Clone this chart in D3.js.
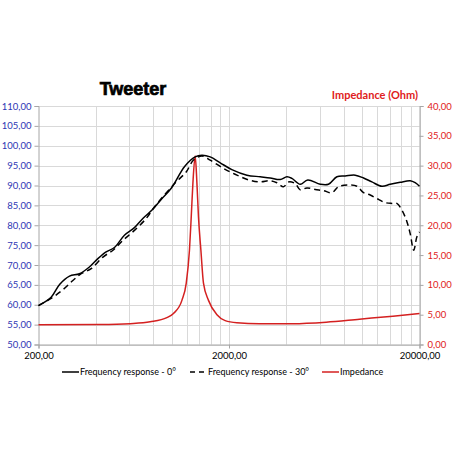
<!DOCTYPE html>
<html>
<head>
<meta charset="utf-8">
<script src="https://cdn.jsdelivr.net/npm/d3@7"></script>
<style>
  body { margin: 0; background: #fff; }
  text { font-family: Lato, "Liberation Sans", sans-serif; }
</style>
</head>
<body>
<div id="chart"></div>
<script>
// Frequency response 0° (Hz, dB)
const freq0 = [200, 233, 258, 291, 328, 370, 410, 453, 501, 565, 638, 706, 796, 881, 995, 1170, 1329, 1441, 1593, 1799, 2070, 2483, 2916, 3290, 3714, 4027, 4277, 4730, 5180, 6025, 6655, 7370, 8150, 9190, 10170, 11250, 12700, 14030, 15840, 17870, 18980, 20000];
const spl0 = [59.8, 61.9, 65.1, 67.2, 67.8, 69.5, 71.6, 73.3, 74.4, 77.5, 79.4, 81.7, 84.0, 86.5, 89.3, 94.8, 97.2, 97.6, 97.2, 95.7, 94.0, 92.6, 92.2, 91.9, 91.5, 92.2, 91.8, 90.3, 91.4, 90.3, 90.3, 92.2, 92.4, 92.6, 91.9, 90.9, 89.8, 90.3, 90.8, 91.2, 90.7, 89.8];

// Frequency response 30° (Hz, dB)
const freq30 = [200, 233, 269, 303, 335, 378, 436, 492, 555, 638, 735, 812, 916, 1056, 1192, 1302, 1441, 1593, 1871, 2201, 2584, 2917, 3290, 3567, 3864, 4105, 4450, 4730, 5130, 5670, 6265, 6935, 7515, 8480, 9390, 10170, 11020, 12180, 13210, 14330, 15210, 16170, 17180, 17870, 18650, 19380, 20000];
const spl30 = [59.8, 61.6, 63.8, 66.1, 67.8, 69.1, 72.0, 73.7, 76.2, 78.7, 81.7, 84.6, 87.6, 90.9, 93.4, 96.4, 97.4, 96.4, 94.3, 92.6, 91.3, 90.9, 91.2, 90.7, 89.7, 90.9, 90.5, 88.9, 89.4, 89.0, 88.7, 88.2, 89.7, 90.1, 89.8, 88.2, 87.6, 86.5, 85.7, 85.5, 85.5, 83.8, 80.9, 77.9, 73.7, 77.1, 78.3];

// Impedance (Hz, Ohm)
const freqZ = [200, 422, 606, 771, 944, 1022, 1132, 1193, 1240, 1267, 1293, 1329, 1357, 1383, 1424, 1469, 1561, 1729, 1910, 2200, 2890, 4330, 6475, 9680, 14500, 20000];
const imp = [3.3, 3.35, 3.5, 3.8, 4.5, 5.2, 7.4, 10.3, 15.8, 21.4, 27.1, 31.6, 27.1, 21.4, 15.8, 10.3, 7.4, 5.0, 4.0, 3.65, 3.5, 3.5, 3.75, 4.25, 4.75, 5.2];

const leftTicks = d3.range(50, 110.1, 5);
const rightTicks = d3.range(0, 40.1, 5);
const xTicks = [200, 2000, 20000];
const xGrid = d3.range(400, 2001, 200).concat(d3.range(4000, 20001, 2000));

const seriesNames = ['Frequency response - 0°', 'Frequency response - 30°', 'Impedance'];

const width = 452;
const height = 452;
const fmt = (d) => d.toFixed(2).replace('.', ',');

const svg = d3.select('#chart')
  .append('svg')
  .attr('width', width)
  .attr('height', height);

const plot = { left: 38.5, right: 419.5, top: 106, bottom: 344.5 };

const x = d3.scaleLog().domain([200, 20000]).range([plot.left, plot.right]);
const yL = d3.scaleLinear().domain([50, 110]).range([plot.bottom, plot.top]);
const yR = d3.scaleLinear().domain([0, 40]).range([plot.bottom, plot.top]);

// gridlines
svg.append('g')
  .selectAll('line.h')
  .data(leftTicks)
  .join('line')
  .attr('x1', plot.left).attr('x2', plot.right)
  .attr('y1', (d) => Math.round(yL(d)) + 0.5)
  .attr('y2', (d) => Math.round(yL(d)) + 0.5)
  .attr('stroke', '#d9d9d9');

svg.append('g')
  .selectAll('line.v')
  .data(xGrid)
  .join('line')
  .attr('x1', (d) => Math.round(x(d)) + 0.5)
  .attr('x2', (d) => Math.round(x(d)) + 0.5)
  .attr('y1', plot.top).attr('y2', plot.bottom)
  .attr('stroke', '#d9d9d9');

// axes
const axisColor = '#a6a6a6';

const leftAxis = svg.append('g')
  .attr('transform', `translate(${plot.left},0)`)
  .call(d3.axisLeft(yL).tickValues(leftTicks).tickSize(4).tickPadding(3).tickFormat(fmt));
leftAxis.selectAll('text').attr('fill', '#2e36b4').style('font-size', '9.5px');

const rightAxis = svg.append('g')
  .attr('transform', `translate(${plot.right},0)`)
  .call(d3.axisRight(yR).tickValues(rightTicks).tickSize(4).tickPadding(4).tickFormat(fmt));
rightAxis.selectAll('text').attr('fill', '#e02020').style('font-size', '9.5px');

const bottomAxis = svg.append('g')
  .attr('transform', `translate(0,${plot.bottom})`)
  .call(d3.axisBottom(x).tickValues(xTicks).tickSize(4).tickPadding(4).tickFormat(fmt));
bottomAxis.selectAll('text').attr('fill', '#000').style('font-size', '9.5px');

[leftAxis, rightAxis, bottomAxis].forEach((g) => {
  g.selectAll('path, line').attr('stroke', axisColor);
  g.style('font-family', 'Lato, sans-serif');
});

// lines
const line = (ys, yScale, curve) => d3.line()
  .x((d) => x(d))
  .y((d, i) => yScale(ys[i]))
  .curve(curve);

svg.append('path')
  .attr('d', line(imp, yR, d3.curveMonotoneX)(freqZ))
  .attr('fill', 'none')
  .attr('stroke', '#d42020')
  .attr('stroke-width', 1.5);

svg.append('path')
  .attr('d', line(spl30, yL, d3.curveCatmullRom.alpha(0.5))(freq30))
  .attr('fill', 'none')
  .attr('stroke', '#000')
  .attr('stroke-width', 1.5)
  .attr('stroke-dasharray', '6,4');

svg.append('path')
  .attr('d', line(spl0, yL, d3.curveCatmullRom.alpha(0.5))(freq0))
  .attr('fill', 'none')
  .attr('stroke', '#000')
  .attr('stroke-width', 1.5);

// titles
svg.append('text')
  .attr('x', 133)
  .attr('y', 95)
  .attr('text-anchor', 'middle')
  .style('font-family', '"Liberation Sans", Arial, sans-serif')
  .style('font-weight', 'bold')
  .style('font-size', '18px')
  .attr('stroke', '#000')
  .attr('stroke-width', 0.7)
  .text('Tweeter');

svg.append('text')
  .attr('x', 418)
  .attr('y', 99)
  .attr('text-anchor', 'end')
  .attr('fill', '#e02020')
  .style('font-weight', 'bold')
  .style('font-size', '11px')
  .text('Impedance (Ohm)');

// legend
const legend = [
  { x: 62, name: seriesNames[0], color: '#000', dash: null },
  { x: 190, name: seriesNames[1], color: '#000', dash: '5,4' },
  { x: 322, name: seriesNames[2], color: '#d42020', dash: null },
];
const lg = svg.append('g').selectAll('g').data(legend).join('g')
  .attr('transform', (d) => `translate(${d.x},372)`);
lg.append('line')
  .attr('x1', 0).attr('x2', 17)
  .attr('stroke', (d) => d.color)
  .attr('stroke-width', 1.5)
  .attr('stroke-dasharray', (d) => d.dash);
lg.append('text')
  .attr('x', 18)
  .attr('y', 3.2)
  .style('font-size', '9px')
  .text((d) => d.name);
</script>
</body>
</html>
